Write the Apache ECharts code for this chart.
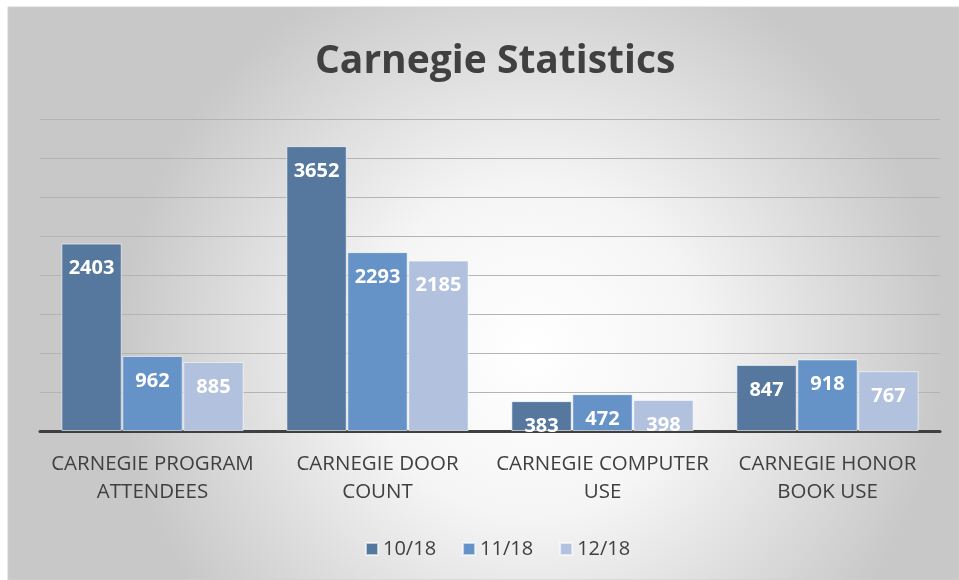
<!DOCTYPE html>
<html>
<head>
<meta charset="utf-8">
<script src="https://cdn.jsdelivr.net/npm/echarts@6/dist/echarts.min.js"></script>
<style>
  html, body { margin: 0; padding: 0; background: #ffffff; }
  #main { width: 959px; height: 580px; }
</style>
</head>
<body>
<div id="main"></div>
<script>
// data
var categories = ['CARNEGIE PROGRAM\nATTENDEES', 'CARNEGIE DOOR\nCOUNT', 'CARNEGIE COMPUTER\nUSE', 'CARNEGIE HONOR\nBOOK USE'];
var seriesNames = ['10/18', '11/18', '12/18'];
var oct18 = [2403, 3652, 383, 847];
var nov18 = [962, 2293, 472, 918];
var dec18 = [885, 2185, 398, 767];

var colors = ['#56789f', '#6592c7', '#b2c2de'];
var font = 'Open Sans, Noto Sans, sans-serif';

var chart = echarts.init(document.getElementById('main'), null, { renderer: 'canvas' });

function makeSeries(name, data, color) {
    return {
        name: name,
        type: 'bar',
        data: data,
        barGap: '1%',
        barCategoryGap: '19%',
        itemStyle: {
            color: color,
            borderColor: 'rgba(255,255,255,0.6)',
            borderWidth: 1
        },
        label: {
            show: true,
            position: 'insideTop',
            distance: 15,
            color: '#ffffff',
            fontFamily: font,
            fontWeight: 'bold',
            fontSize: 20
        }
    };
}

var option = {
    color: colors,
    graphic: [{
        type: 'rect',
        z: -10,
        silent: true,
        shape: { x: 8, y: 7, width: 951, height: 573 },
        style: {
            fill: new echarts.graphic.RadialGradient(0.55, 0.6, 0.72, [
                { offset: 0, color: '#ffffff' },
                { offset: 0.4, color: '#f5f5f5' },
                { offset: 1, color: '#c8c8c8' }
            ]),
            stroke: '#d0d0d0',
            lineWidth: 1
        }
    }],
    title: {
        text: 'Carnegie Statistics',
        left: 310,
        top: 37,
        textStyle: {
            fontFamily: font,
            fontWeight: 'bold',
            fontSize: 39,
            color: '#404040'
        }
    },
    legend: {
        bottom: 16,
        left: 360,
        itemWidth: 12,
        itemHeight: 12,
        itemGap: 26,
        icon: 'rect',
        textStyle: { fontFamily: font, fontSize: 20, color: '#404040' },
        data: seriesNames
    },
    grid: { left: 40, right: 19, top: 119, bottom: 149 },
    xAxis: {
        type: 'category',
        data: categories,
        axisLine: { lineStyle: { color: '#404040', width: 3 } },
        axisTick: { show: false },
        axisLabel: {
            fontFamily: font,
            fontSize: 20.5,
            color: '#404040',
            lineHeight: 28,
            margin: 19,
            interval: 0
        }
    },
    yAxis: {
        type: 'value',
        min: 0,
        max: 4000,
        interval: 500,
        axisLabel: { show: false },
        axisLine: { show: false },
        axisTick: { show: false },
        splitLine: { lineStyle: { color: '#b4b4b4', width: 1 } }
    },
    series: [
        makeSeries(seriesNames[0], oct18, colors[0]),
        makeSeries(seriesNames[1], nov18, colors[1]),
        makeSeries(seriesNames[2], dec18, colors[2])
    ]
};

chart.setOption(option);
</script>
</body>
</html>
